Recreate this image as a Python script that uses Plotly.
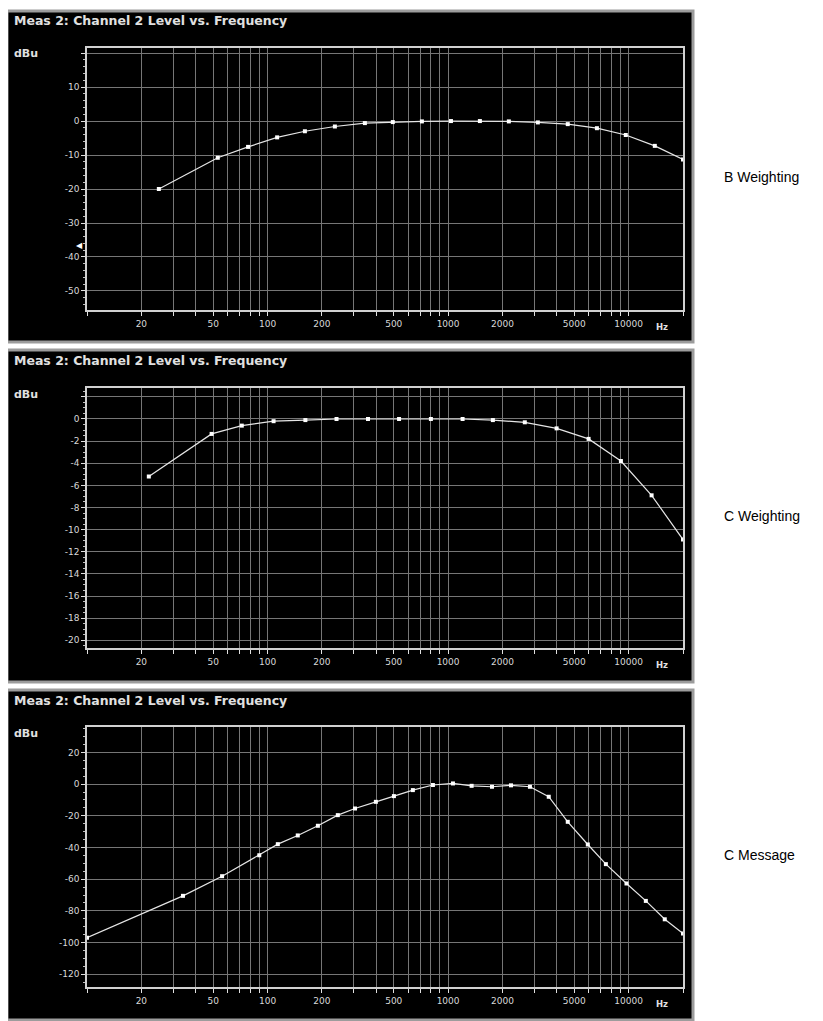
import plotly.graph_objects as go

# page has an 8px body margin, so the figure is drawn 8px smaller and offset
OFF = 8
W, H = 823 - OFF, 1021 - OFF

b_freq = [25, 53, 78, 113, 161, 236, 346, 494, 716, 1037, 1500, 2170, 3140, 4600, 6670, 9640, 13960, 20000]
b_level = [-20.0, -10.8, -7.6, -4.8, -3.0, -1.6, -0.6, -0.3, -0.1, 0.0, 0.0, -0.1, -0.4, -0.9, -2.1, -4.1, -7.3, -11.3]

c_freq = [22, 49, 72, 108, 162, 241, 360, 535, 803, 1203, 1770, 2660, 3990, 6000, 9060, 13400, 20000]
c_level = [-5.2, -1.35, -0.6, -0.2, -0.1, 0.0, 0.0, 0.0, 0.0, 0.0, -0.1, -0.3, -0.85, -1.8, -3.8, -6.9, -10.9]

msg_freq = [10, 34, 56, 90, 114, 147, 190, 245, 305, 398, 501, 638, 824, 1064, 1350, 1750,
            2230, 2840, 3610, 4600, 5940, 7480, 9730, 12450, 15850, 20000]
msg_level = [-96.9, -70.5, -58.1, -44.9, -37.9, -32.4, -26.3, -19.6, -15.4, -11.2, -7.6, -3.8, -0.6, 0.4,
             -1.1, -1.7, -0.8, -1.7, -8.0, -23.8, -38.1, -50.5, -62.7, -73.7, -85.3, -94.3]

b_marker_level = -36.5  # little level pointer on the B weighting dBu axis

x_labels = {20: "20", 50: "50", 100: "100", 200: "200", 500: "500",
            1000: "1000", 2000: "2000", 5000: "5000", 10000: "10000"}
x_grid = [m * 10 ** e for e in range(1, 5) for m in range(1, 10)] + [20000]

panels = [
    dict(name="B Weighting", freq=b_freq, level=b_level,
         yticks=list(range(-50, 21, 10)), yhide=20, yrange=[-55.6, 21.5], ydt=2,
         box=(11, 342), plot=(48, 310)),
    dict(name="C Weighting", freq=c_freq, level=c_level,
         yticks=list(range(-20, 3, 2)), yhide=2, yrange=[-20.7, 2.8], ydt=0.5,
         box=(350, 682), plot=(388, 648)),
    dict(name="C Message", freq=msg_freq, level=msg_level,
         yticks=list(range(-120, 21, 20)), yhide=None, yrange=[-128, 36], ydt=5,
         box=(690, 1020), plot=(727, 987)),
]


def px(x):
    return (x - OFF) / W


def py(y):
    return 1 - (y - OFF) / H


fig = go.Figure()
layout = dict(shapes=[], annotations=[])
tick_font = dict(family="DejaVu Sans", size=9, color="#d8d8d8")

for i, p in enumerate(panels, start=1):
    sfx = "" if i == 1 else str(i)
    fig.add_trace(go.Scatter(
        x=p["freq"], y=p["level"], xaxis="x" + sfx, yaxis="y" + sfx,
        mode="lines+markers",
        line=dict(color="#e6e6e6", width=1.2),
        marker=dict(symbol="square", size=4, color="#ffffff"),
        showlegend=False,
    ))

    top, bot = p["plot"]
    layout["xaxis" + sfx] = dict(
        type="log", range=[1, 4.30103], domain=[px(87), px(683)],
        anchor="y" + sfx,
        tickvals=x_grid, ticktext=[x_labels.get(v, "") for v in x_grid],
        showgrid=True, gridcolor="#767676", gridwidth=1,
        ticks="outside", ticklen=4, tickcolor="#e0e0e0",
        showline=True, linecolor="#d0d0d0", linewidth=1.5, mirror=True,
        tickfont=tick_font, zeroline=False, fixedrange=True,
    )
    layout["yaxis" + sfx] = dict(
        range=p["yrange"], domain=[py(bot), py(top)], anchor="x" + sfx,
        tickvals=p["yticks"],
        ticktext=["" if v == p["yhide"] else str(v) for v in p["yticks"]],
        showgrid=True, gridcolor="#767676", gridwidth=1,
        ticks="outside", ticklen=4, tickcolor="#e0e0e0",
        minor=dict(dtick=p["ydt"], ticks="outside", ticklen=2, tickcolor="#bdbdbd", showgrid=False),
        showline=True, linecolor="#d0d0d0", linewidth=1.5, mirror=True,
        tickfont=tick_font, zeroline=False, fixedrange=True,
    )

    y0, y1 = p["box"]
    # analyser screen frame
    layout["shapes"].append(dict(
        type="rect", xref="paper", yref="paper", layer="below",
        x0=px(7), x1=px(693), y0=py(y1), y1=py(y0),
        fillcolor="#000000", line=dict(color="#9c9c9c", width=3),
    ))
    layout["annotations"] += [
        dict(text="<b>Meas 2: Channel 2 Level vs. Frequency</b>", xref="paper", yref="paper",
             x=px(12), y=py(y0 + 10), xanchor="left", yanchor="middle", showarrow=False,
             font=dict(family="DejaVu Sans", size=12.5, color="#e0e0e0")),
        dict(text="<b>dBu</b>", xref="paper", yref="paper",
             x=px(12), y=py(top + 6), xanchor="left", yanchor="middle", showarrow=False,
             font=dict(family="DejaVu Sans", size=11, color="#e0e0e0")),
        dict(text="<b>Hz</b>", xref="x" + sfx + " domain", yref="paper",
             x=0.965, y=py(bot + 17), xanchor="center", yanchor="middle", showarrow=False,
             font=dict(family="DejaVu Sans", size=8.5, color="#e0e0e0")),
        dict(text=p["name"], xref="paper", yref="paper",
             x=px(722), y=py((y0 + y1) / 2), xanchor="left", yanchor="middle", showarrow=False,
             font=dict(family="Liberation Sans, Arial", size=14, color="#000000")),
    ]

layout["annotations"].append(dict(
    text="◀", xref="x domain", yref="y", x=-0.004, y=b_marker_level,
    xanchor="right", yanchor="middle", showarrow=False,
    font=dict(family="DejaVu Sans", size=8, color="#ffffff"),
))

fig.update_layout(
    **layout,
    width=W, height=H,
    margin=dict(l=0, r=0, t=0, b=0),
    paper_bgcolor="#ffffff", plot_bgcolor="#000000",
)

fig.write_html("out.html")
